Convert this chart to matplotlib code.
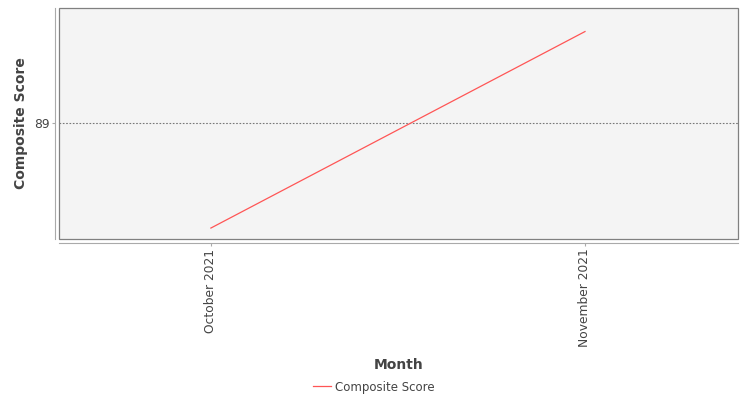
import matplotlib.pyplot as plt
from matplotlib.patches import Rectangle

months = ["October 2021", "November 2021"]
composite_score = [88.3, 89.61]
y_ticks = [89]

fig = plt.figure(figsize=(7.5, 4), dpi=100)
ax = fig.add_axes([59 / 750, 1 - 239 / 400, (738 - 59) / 750, (239 - 8) / 400])
ax.set_facecolor("#f4f4f4")

# plot border plus offset axis lines (set first, set_position resets ticks)
for s in ["top", "right"]:
    ax.spines[s].set_visible(False)
for s in ["left", "bottom"]:
    ax.spines[s].set_position(("outward", 3))
    ax.spines[s].set_color("#aaaaaa")
ax.add_patch(Rectangle((0, 0), 1, 1, transform=ax.transAxes, fill=False,
                       edgecolor="#808080", lw=0.9, clip_on=False, zorder=5))

x = list(range(len(months)))
ax.plot(x, composite_score, color="#ff5555", lw=0.9, label="Composite Score")

ax.set_xlim(-0.406, len(months) - 1 + 0.409)
ax.set_ylim(88.227, 89.767)
ax.set_xticks(x)
ax.set_xticklabels(months, rotation=90, fontsize=8.8, color="#444444")
ax.set_yticks(y_ticks)
ax.set_yticklabels([str(v) for v in y_ticks], fontsize=8.8, color="#444444")
ax.grid(axis="y", color="#777777", linestyle=(0, (1.5, 1.5)), lw=0.8)
ax.grid(axis="x", visible=False)
ax.tick_params(axis="both", length=2, width=0.8, color="#aaaaaa", pad=2)

ax.set_ylabel("Composite Score", fontsize=10, fontweight="bold", color="#444444", labelpad=4)
ax.set_xlabel("Month", fontsize=10, fontweight="bold", color="#444444", labelpad=7.5)

fig.legend(loc="center", bbox_to_anchor=(374 / 750, 1 - 387 / 400), frameon=False,
           fontsize=8.5, handlelength=1.5, handletextpad=0.4, labelcolor="#444444")

fig.savefig("out.png", dpi=100)
